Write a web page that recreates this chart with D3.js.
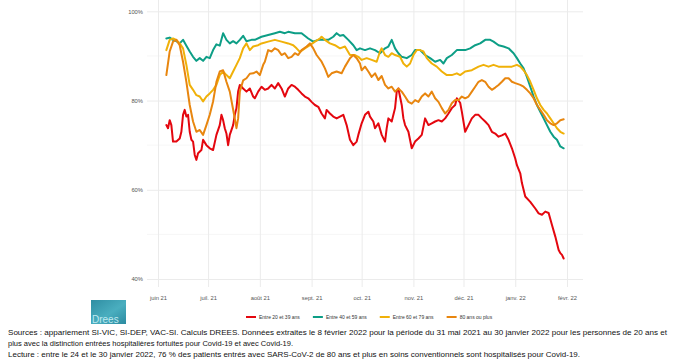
<!DOCTYPE html>
<html>
<head>
<meta charset="utf-8">
<script src="https://cdn.jsdelivr.net/npm/d3@7"></script>
<style>
  body { margin: 0; background: #fff; }
  svg { display: block; }
</style>
</head>
<body>
<div id="chart"></div>
<script>
const width = 674;
const height = 362;

// x values are days since 1 June 2021
const startDate = new Date(2021, 5, 1);

const seriesNames = ["Entre 20 et 39 ans", "Entre 40 et 59 ans", "Entre 60 et 79 ans", "80 ans ou plus"];
const seriesColors = ["#e4070f", "#0d9e86", "#f0b109", "#e8860f"];

const monthDates = [[2021, 5], [2021, 6], [2021, 7], [2021, 8], [2021, 9], [2021, 10], [2021, 11], [2022, 0], [2022, 1]];
const monthLabels = ["juin 21", "juil. 21", "août 21", "sept. 21", "oct. 21", "nov. 21", "déc. 21", "janv. 22", "févr. 22"];
const yMajor = [40, 60, 80, 100];
const yMinor = [50, 70, 90];

const age2039 = [[5,74.5],[6,73.8],[7,75.6],[8,74.5],[9,70.8],[11,70.8],[13,71.5],[14,73.0],[15,76.8],[16,77.9],[17,76.4],[18,76.8],[19,73.0],[20,71.2],[21,70.8],[22,67.8],[23,66.7],[24,68.2],[26,68.9],[27,71.2],[29,70.0],[31,69.3],[33,68.9],[35,72.3],[37,74.5],[38,76.8],[39,75.6],[40,73.8],[41,72.6],[42,70.0],[43,72.3],[45,74.5],[46,76.8],[47,78.3],[48,82.0],[49,83.5],[51,82.7],[53,82.0],[55,82.7],[57,80.9],[58,80.5],[60,82.0],[62,83.1],[64,82.4],[66,82.7],[68,83.5],[70,82.7],[72,83.9],[74,82.7],[76,80.9],[78,82.7],[80,83.5],[82,83.1],[84,82.4],[86,81.6],[88,80.9],[90,80.5],[92,79.7],[94,79.0],[96,78.6],[98,77.1],[100,76.0],[101,77.9],[103,77.1],[105,76.4],[107,76.0],[109,76.4],[111,76.8],[113,74.5],[115,71.2],[117,70.0],[119,70.8],[120,72.3],[122,74.9],[124,76.8],[126,77.5],[127,76.4],[129,75.3],[130,73.8],[132,74.9],[134,72.3],[136,70.8],[137,73.8],[138,76.0],[140,75.3],[141,76.8],[142,78.3],[143,82.0],[144,82.7],[146,79.0],[147,76.0],[148,74.5],[150,73.0],[152,69.3],[154,70.8],[156,71.5],[158,72.3],[160,76.0],[162,74.5],[164,74.9],[166,75.3],[168,75.6],[170,75.3],[172,76.0],[174,77.1],[176,78.3],[178,79.0],[179,80.5],[181,79.5],[182,77.5],[184,73.0],[186,74.5],[188,76.0],[190,76.8],[192,76.8],[194,76.0],[196,75.3],[198,74.5],[200,73.0],[202,72.6],[204,71.9],[206,72.2],[208,72.6],[210,71.2],[212,69.3],[214,67.0],[215,65.5],[217,63.7],[218,61.5],[220,58.5],[223,57.3],[226,55.8],[228,54.7],[230,54.4],[232,55.1],[234,54.8],[236,52.1],[238,49.5],[240,46.5],[241,45.8],[242,45.4],[243,44.6]];

const age4059 = [[5,93.9],[7,94.1],[9,93.6],[11,93.3],[13,92.8],[15,93.6],[17,92.3],[19,91.0],[21,89.8],[23,88.9],[25,89.5],[27,88.9],[29,89.8],[31,89.5],[33,91.3],[35,92.6],[37,92.3],[39,95.1],[41,93.6],[43,92.8],[45,93.3],[47,92.8],[49,93.6],[51,94.5],[53,93.3],[56,93.6],[58,93.6],[62,94.3],[66,94.7],[70,95.1],[73,95.4],[76,95.1],[78,95.4],[82,95.1],[86,95.1],[90,93.9],[93,93.2],[96,93.6],[99,93.6],[102,93.6],[105,94.3],[107,95.1],[109,94.5],[111,94.7],[114,93.6],[117,92.4],[119,91.3],[121,91.7],[124,91.3],[127,91.7],[130,91.3],[133,90.6],[136,91.7],[138,92.1],[140,93.6],[142,91.7],[144,90.6],[146,89.8],[149,89.5],[152,90.2],[154,91.3],[157,91.3],[160,90.2],[163,89.5],[166,88.7],[169,89.1],[171,88.3],[173,89.5],[176,90.2],[179,91.3],[181,91.3],[184,91.3],[187,91.7],[190,92.4],[193,92.8],[196,93.6],[199,93.6],[201,93.2],[204,92.4],[207,92.1],[210,91.7],[213,90.6],[215,89.5],[217,88.3],[219,87.2],[221,85.3],[223,83.1],[225,80.9],[227,79.0],[229,77.5],[231,76.0],[233,74.5],[235,73.0],[237,71.9],[239,71.2],[241,69.7],[243,69.3]];

const age6079 = [[5,91.3],[7,93.6],[9,93.9],[11,93.6],[13,92.8],[15,91.7],[17,88.0],[19,83.5],[21,82.4],[23,81.2],[25,80.9],[27,79.8],[29,80.9],[31,81.6],[33,82.4],[35,83.5],[37,85.7],[39,86.5],[41,85.7],[43,85.0],[45,86.5],[47,88.0],[49,89.5],[51,91.7],[53,92.8],[55,91.3],[57,92.1],[60,92.4],[62,92.8],[66,93.2],[70,93.6],[74,93.2],[78,92.8],[81,92.4],[83,91.7],[85,90.9],[88,91.7],[91,92.4],[94,93.2],[97,93.9],[98,94.3],[100,93.6],[103,92.8],[106,92.4],[109,91.7],[112,92.1],[115,90.2],[118,90.2],[120,89.8],[122,89.1],[125,89.5],[128,89.1],[131,88.7],[133,91.0],[134,91.7],[136,90.2],[138,89.8],[140,90.6],[142,90.2],[145,89.8],[147,88.3],[149,87.6],[151,88.3],[153,90.2],[155,91.3],[157,91.3],[159,91.0],[161,89.5],[164,88.3],[167,87.6],[170,86.5],[173,85.7],[176,85.7],[179,86.1],[181,85.7],[184,86.5],[188,86.8],[192,87.6],[195,88.0],[198,87.6],[201,88.0],[204,87.6],[208,87.6],[212,87.6],[215,88.0],[217,87.6],[219,86.8],[221,85.7],[223,84.2],[225,82.4],[227,80.5],[229,79.0],[231,77.9],[233,77.1],[235,76.0],[237,74.9],[239,73.8],[241,73.0],[243,72.6]];

const age80plus = [[5,85.7],[7,91.0],[9,93.2],[11,93.6],[13,92.4],[15,88.7],[17,84.2],[19,79.0],[21,75.3],[23,73.0],[25,73.4],[27,72.3],[29,74.5],[31,76.8],[33,79.8],[35,84.2],[37,86.5],[39,86.8],[41,84.2],[43,82.0],[45,78.0],[47,73.8],[48,76.0],[49,82.0],[51,84.5],[53,85.0],[55,86.0],[57,86.1],[59,86.5],[61,85.7],[63,88.0],[64,88.7],[66,91.3],[68,91.0],[70,91.7],[72,91.3],[74,90.2],[76,90.6],[78,89.5],[80,89.8],[82,90.6],[84,90.2],[86,91.3],[89,92.1],[91,92.8],[93,91.7],[95,90.2],[98,88.7],[100,87.2],[102,85.3],[104,86.1],[107,86.5],[110,86.1],[112,87.6],[115,89.5],[117,90.2],[119,89.5],[121,88.3],[122,86.8],[124,87.6],[126,86.5],[128,85.3],[130,86.1],[132,84.6],[134,85.5],[136,83.5],[138,82.7],[140,83.1],[142,82.0],[144,82.7],[146,82.0],[148,80.9],[150,79.7],[152,79.3],[154,80.1],[156,79.7],[158,80.9],[160,81.6],[162,80.9],[164,82.0],[166,80.5],[168,79.7],[170,78.3],[172,77.1],[174,77.9],[176,79.4],[178,80.1],[180,80.1],[182,80.9],[184,80.5],[186,80.9],[188,82.0],[190,83.1],[192,84.2],[194,84.6],[196,84.2],[198,83.1],[200,82.4],[202,82.9],[204,83.5],[206,84.2],[208,85.0],[210,85.0],[212,84.2],[214,83.9],[217,83.5],[219,83.1],[221,82.4],[223,81.6],[225,80.5],[227,79.0],[229,77.9],[231,76.8],[233,75.6],[235,74.9],[237,74.5],[239,74.9],[241,75.6],[243,75.8]];

const allSeries = [age2039, age4059, age6079, age80plus];

const footLines = [
  "Sources : appariement SI-VIC, SI-DEP, VAC-SI. Calculs DREES. Données extraites le 8 février 2022 pour la période du 31 mai 2021 au 30 janvier 2022 pour les personnes de 20 ans et",
  "plus avec la distinction entrées hospitalières fortuites pour Covid-19 et avec Covid-19.",
  "Lecture : entre le 24 et le 30 janvier 2022, 76 % des patients entrés avec SARS-CoV-2 de 80 ans et plus en soins conventionnels sont hospitalisés pour Covid-19."
];

const svg = d3.select("#chart").append("svg").attr("width", width).attr("height", height);

const panel = { left: 147, right: 583, top: 0, bottom: 287 };

const x = d3.scaleTime()
    .domain([new Date(2021, 5, 1), new Date(2022, 1, 1)])
    .range([158, 567]);
const y = d3.scaleLinear().domain([40, 100]).range([279, 11.3]);

// minor horizontal grid
svg.append("g").selectAll("line").data(yMinor).join("line")
    .attr("x1", panel.left).attr("x2", panel.right)
    .attr("y1", d => y(d)).attr("y2", d => y(d))
    .attr("stroke", "#f4f4f4").attr("stroke-width", 0.8);

// y axis with major gridlines
const yAxis = svg.append("g")
    .attr("transform", `translate(${panel.left},0)`)
    .call(d3.axisLeft(y).tickValues(yMajor).tickFormat(d => d + "%")
        .tickSize(-(panel.right - panel.left)).tickPadding(4));
yAxis.select(".domain").remove();
yAxis.selectAll("line").attr("stroke", "#ebebeb").attr("stroke-width", 1);
yAxis.selectAll("text").attr("fill", "#555").attr("font-size", "5.8px")
    .attr("font-family", "Liberation Sans, Arial, sans-serif");

// x axis with vertical gridlines
const tickDates = monthDates.map(m => new Date(m[0], m[1], 1));
const xAxis = svg.append("g")
    .attr("transform", `translate(0,${panel.bottom})`)
    .call(d3.axisBottom(x).tickValues(tickDates).tickFormat((d, i) => monthLabels[i])
        .tickSize(-(panel.bottom - panel.top)).tickPadding(9));
xAxis.select(".domain").remove();
xAxis.selectAll("line").attr("stroke", "#ebebeb").attr("stroke-width", 1);
xAxis.selectAll("text").attr("fill", "#555").attr("font-size", "5.8px")
    .attr("font-family", "Liberation Sans, Arial, sans-serif");

// lines
const line = d3.line()
    .x(d => x(d3.timeDay.offset(startDate, d[0])))
    .y(d => y(d[1]));

svg.append("g").selectAll("path").data(allSeries).join("path")
    .attr("d", line)
    .attr("fill", "none")
    .attr("stroke", (d, i) => seriesColors[i])
    .attr("stroke-width", 2)
    .attr("stroke-linejoin", "round")
    .attr("stroke-linecap", "round");

// legend
const legend = svg.append("g").attr("font-family", "Liberation Sans, Arial, sans-serif");
let lx = 246;
const ly = 317;
seriesNames.forEach((name, i) => {
    legend.append("line")
        .attr("x1", lx).attr("x2", lx + 10).attr("y1", ly).attr("y2", ly)
        .attr("stroke", seriesColors[i]).attr("stroke-width", 2);
    const t = legend.append("text")
        .attr("x", lx + 13).attr("y", ly + 1.8)
        .attr("font-size", "5px").attr("fill", "#333")
        .text(name);
    lx += 13 + t.node().getComputedTextLength() + 13;
});

// footnotes
const footWidths = [659, 285, 572];
svg.append("g").selectAll("text").data(footLines).join("text")
    .attr("x", 8)
    .attr("y", (d, i) => 334.5 + i * 11)
    .attr("font-family", "Liberation Sans Narrow, Liberation Sans, Arial, sans-serif")
    .attr("font-size", "8px")
    .attr("fill", "#111")
    .attr("textLength", (d, i) => footWidths[i])
    .attr("lengthAdjust", "spacingAndGlyphs")
    .text(d => d);

// logo
const defs = svg.append("defs");
const grad = defs.append("linearGradient").attr("id", "logoGrad")
    .attr("x1", "0").attr("y1", "0").attr("x2", "1").attr("y2", "1");
grad.append("stop").attr("offset", "0").attr("stop-color", "#2f8ea3");
grad.append("stop").attr("offset", "0.55").attr("stop-color", "#4aaebf");
grad.append("stop").attr("offset", "1").attr("stop-color", "#2b8aa0");
svg.append("rect").attr("x", 91).attr("y", 300).attr("width", 35).attr("height", 24)
    .attr("fill", "url(#logoGrad)");
svg.append("text").attr("x", 92).attr("y", 323)
    .attr("font-family", "Liberation Sans, Arial, sans-serif")
    .attr("font-size", "10px").attr("fill", "#bfe9f0")
    .text("Drees");
</script>
</body>
</html>
